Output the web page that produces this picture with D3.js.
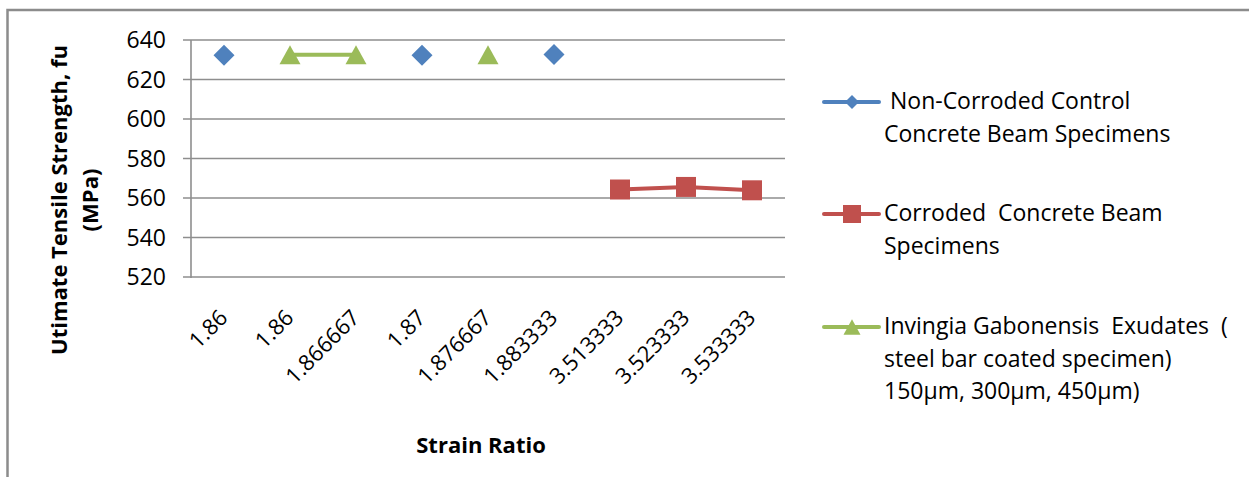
<!DOCTYPE html>
<html>
<head>
<meta charset="utf-8">
<script src="https://cdn.jsdelivr.net/npm/d3@7"></script>
<style>
  body { margin: 0; background: #fff; }
  svg { display: block; font-family: "Open Sans", sans-serif; }
  text { white-space: pre; }
</style>
</head>
<body>
<svg class="chart" width="1249" height="477"></svg>
<script>
// data
const categories = ["1.86", "1.86", "1.866667", "1.87", "1.876667", "1.883333", "3.513333", "3.523333", "3.533333"];
const nonCorroded = [632.3, null, null, 632.3, null, 632.6, null, null, null];
const corroded = [null, null, null, null, null, null, 564.3, 565.6, 563.9];
const coated = [null, 632.5, 632.5, null, 632.5, null, null, null, null];
const yTicks = [520, 540, 560, 580, 600, 620, 640];

const series = [
  { name: [" Non-Corroded Control", "Concrete Beam Specimens"], values: nonCorroded, color: "#4F81BD", shape: "diamond" },
  { name: ["Corroded  Concrete Beam", "Specimens"], values: corroded, color: "#C0504D", shape: "square" },
  { name: ["Invingia Gabonensis  Exudates  (", "steel bar coated specimen)", "150µm, 300µm, 450µm)"], values: coated, color: "#9BBB59", shape: "triangle" },
];

const svg = d3.select(".chart");
const plot = { left: 191, right: 785, top: 40, bottom: 277 };

/*
      Outer frame
*/
svg.append("path")
  .attr("d", "M7.5,477V10H1249")
  .attr("fill", "none")
  .attr("stroke", "#8c8c8c")
  .attr("stroke-width", 2.5);

const x = d3.scaleBand().domain(d3.range(categories.length)).range([plot.left, plot.right]);
const y = d3.scaleLinear().domain([520, 640]).range([plot.bottom, plot.top]);
const cx = (i) => x(i) + x.bandwidth() / 2;

/*
      Grid + axes
*/
svg.append("g")
  .selectAll("line")
  .data(yTicks)
  .join("line")
  .attr("x1", plot.left - 8)
  .attr("x2", plot.right)
  .attr("y1", (d) => y(d))
  .attr("y2", (d) => y(d))
  .attr("stroke", "#8e8e8e")
  .attr("stroke-width", 1.6);

svg.append("line")
  .attr("x1", plot.left).attr("x2", plot.left)
  .attr("y1", plot.top).attr("y2", plot.bottom + 1)
  .attr("stroke", "#8e8e8e")
  .attr("stroke-width", 1.6);

svg.append("g")
  .selectAll("text")
  .data(yTicks)
  .join("text")
  .attr("x", 166)
  .attr("y", (d) => y(d))
  .attr("dy", "0.36em")
  .attr("text-anchor", "end")
  .attr("font-size", 23)
  .attr("fill", "#000")
  .text((d) => d);

svg.append("g")
  .selectAll("text")
  .data(categories)
  .join("text")
  .attr("transform", (d, i) => `translate(${cx(i) + 5},319) rotate(-45)`)
  .attr("text-anchor", "end")
  .attr("font-size", 22)
  .attr("fill", "#000")
  .text((d) => d);

// axis titles
svg.append("text")
  .attr("x", 481)
  .attr("y", 453)
  .attr("text-anchor", "middle")
  .attr("font-size", 22)
  .attr("font-weight", "bold")
  .text("Strain Ratio");

const yTitle = svg.append("text")
  .attr("transform", "translate(0,200) rotate(-90)")
  .attr("text-anchor", "middle")
  .attr("font-size", 22)
  .attr("font-weight", "bold");
yTitle.append("tspan").attr("x", 0).attr("y", 67).text("Utimate Tensile Strength, fu");
yTitle.append("tspan").attr("x", 0).attr("y", 98).text("(MPa)");

/*
      Markers
*/
function markerPath(shape, s) {
  if (shape === "diamond") return `M0,${-s}L${s},0L0,${s}L${-s},0Z`;
  if (shape === "square") return `M${-s},${-s}H${s}V${s}H${-s}Z`;
  return `M0,${-s * 0.9}L${s},${s * 0.9}H${-s}Z`;
}

const line = d3.line()
  .defined((d) => d != null)
  .x((d, i) => cx(i))
  .y((d) => y(d));

series.forEach((s) => {
  svg.append("path")
    .attr("d", line(s.values))
    .attr("fill", "none")
    .attr("stroke", s.color)
    .attr("stroke-width", 4);

  const pts = s.values.map((v, i) => ({ v, i })).filter((d) => d.v != null);
  const size = s.shape === "square" ? 10 : 10.5;
  svg.append("g")
    .selectAll("path")
    .data(pts)
    .join("path")
    .attr("transform", (d) => `translate(${cx(d.i)},${y(d.v)})`)
    .attr("d", markerPath(s.shape, size))
    .attr("fill", s.color);
});

/*
      Legend
*/
const legendY = [102, 214, 327];
series.forEach((s, k) => {
  const g = svg.append("g").attr("transform", `translate(0,${legendY[k]})`);
  g.append("line")
    .attr("x1", 824).attr("x2", 879)
    .attr("y1", 0).attr("y2", 0)
    .attr("stroke", s.color)
    .attr("stroke-width", 4)
    .attr("stroke-linecap", "round");
  const ms = s.shape === "diamond" ? 7 : s.shape === "square" ? 9 : 8.5;
  g.append("path")
    .attr("transform", "translate(852,0)")
    .attr("d", markerPath(s.shape, ms))
    .attr("fill", s.color);
  const t = g.append("text").attr("font-size", 23).attr("fill", "#000");
  s.name.forEach((ln, j) => {
    t.append("tspan").attr("x", 884).attr("y", 7 + j * 32.5).text(ln);
  });
});
</script>
</body>
</html>
